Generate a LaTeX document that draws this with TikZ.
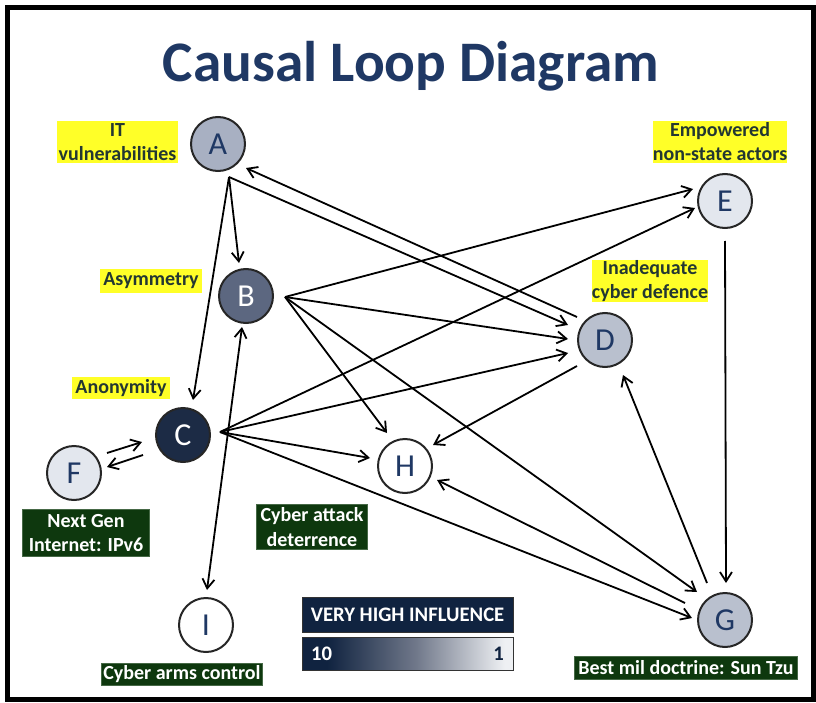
\documentclass[tikz,border=0pt]{standalone}
\usepackage{fontspec}
\setmainfont{Carlito}
\usetikzlibrary{arrows.meta,calc}
\definecolor{navy}{RGB}{31,56,100}
\definecolor{legnavy}{RGB}{16,35,64}
\definecolor{leggray}{RGB}{112,120,138}
\definecolor{legwhite}{RGB}{238,240,243}
\definecolor{yel}{RGB}{255,255,40}
\definecolor{yeltext}{RGB}{35,55,50}
\definecolor{grn}{RGB}{14,56,14}
\definecolor{grnedge}{RGB}{70,105,70}
\definecolor{fillA}{RGB}{168,176,194}
\definecolor{fillB}{RGB}{92,103,128}
\definecolor{fillC}{RGB}{28,43,69}
\definecolor{fillD}{RGB}{185,192,206}
\definecolor{fillE}{RGB}{227,231,238}
\pgfdeclarehorizontalshading{legshade}{100bp}{color(0bp)=(legnavy); color(25bp)=(legnavy); color(31bp)=(legnavy); color(52bp)=(leggray); color(73bp)=(legwhite); color(100bp)=(legwhite)}
\begin{document}
\begin{tikzpicture}[x=0.75pt,y=-0.75pt,
  cnode/.style={circle, draw=black!85, line width=1.5pt, minimum size=40.5pt, inner sep=0pt, font=\fontsize{24}{24}\selectfont, text=navy},
  tip/.style={Straight Barb[length=7pt,width=9pt]},
  conn/.style={line width=1.35pt, -{Straight Barb[length=7pt,width=9pt]}},
  hl/.style={fill=yel, text=yeltext, font=\bfseries\fontsize{15}{18}\selectfont, align=center, inner sep=0pt},
  gbox/.style={fill=grn, draw=grnedge, line width=0.6pt, text=white, font=\bfseries\fontsize{15}{18.5}\selectfont, align=center, inner sep=0pt},
]
\useasboundingbox (0,0) rectangle (816,702);
\draw[line width=3.75pt] (7.5,7.5) rectangle (813.5,699.5);

\node[font=\bfseries\fontsize{43}{50}\selectfont, text=navy, anchor=base] (title) at (411,82) {Causal Loop Diagram};

% highlighted labels
\node[hl, minimum width=90.75pt, minimum height=31.5pt] (lA) at (117.5,142) {IT\\vulnerabilities};
\node[hl, minimum width=76.5pt, minimum height=18pt] (lB) at (151,281) {Asymmetry};
\node[hl, minimum width=73.5pt, minimum height=16.5pt] (lC) at (121,388) {Anonymity};
\node[hl, minimum width=100.5pt, minimum height=31.5pt] (lE) at (720,142) {Empowered\\non-state actors};
\node[hl, minimum width=87pt, minimum height=31.5pt] (lD) at (650,281) {Inadequate\\cyber defence};

% green labels
\node[gbox, minimum width=95.25pt, minimum height=35.25pt] (lF) at (86,533) {Next Gen\\Internet: IPv6};
\node[gbox, minimum width=83.25pt, minimum height=33.75pt] (lH) at (312,527) {Cyber attack\\deterrence};
\node[gbox, minimum width=120.75pt, minimum height=16.5pt] (lI) at (182,674) {Cyber arms control};
\node[gbox, minimum width=167.25pt, minimum height=17.25pt] (lG) at (686,668) {Best mil doctrine: Sun Tzu};

% legend
\node[fill=legnavy, draw=black!80, line width=0.6pt, minimum width=158.25pt, minimum height=26.25pt, text=white, font=\bfseries\fontsize{15.5}{18}\selectfont, inner sep=0pt] (leg1) at (407.5,614.5) {VERY HIGH INFLUENCE};
\node[shading=legshade, draw=black!80, line width=0.6pt, minimum width=158.25pt, minimum height=24.75pt, inner sep=0pt] (leg2) at (407.5,653.5) {};
\node[text=white, font=\bfseries\fontsize{15.5}{18}\selectfont, anchor=west, inner sep=0pt] (ten) at ([xshift=7pt]leg2.west) {10};
\node[text=legnavy, font=\bfseries\fontsize{15.5}{18}\selectfont, anchor=east, inner sep=0pt] (one) at ([xshift=-7pt]leg2.east) {1};

% circle nodes
\node[cnode, fill=fillA] (A) at (218,144) {A};
\node[cnode, fill=fillB, text=white] (B) at (246,296) {B};
\node[cnode, fill=fillC, text=white] (C) at (183,435) {C};
\node[cnode, fill=fillD] (D) at (605,340) {D};
\node[cnode, fill=fillE] (E) at (725,201) {E};
\node[cnode, fill=fillE] (F) at (74,473) {F};
\node[cnode, fill=fillD] (G) at (725,620) {G};
\node[cnode, fill=white] (H) at (405,466) {H};
\node[cnode, fill=white] (I) at (206,625) {I};

% connector ports
\coordinate (Ao) at ($(A)+(11,33)$);
\coordinate (Bo) at ($(B)+(39,1)$);
\coordinate (Co) at ($(C)+(37,-3)$);
\coordinate (Da) at ($(D)+(-28,-23)$);
\coordinate (Dh) at ($(D)+(-28,26)$);
\coordinate (Gd) at ($(G)+(-18,-37)$);
\coordinate (Gh) at ($(G)+(-40,-17)$);
\coordinate (Eg) at ($(E)+(0,40)$);

% connectors
\draw[conn] (Ao) -- ($(B)+(-7,-33)$);
\draw[conn] (Ao) -- ($(C)+(10,-35)$);
\draw[conn] (Ao) -- ($(D)+(-37,-15)$);
\draw[conn] (Da) -- ($(A)+(28,24)$);
\draw[conn] (Bo) -- ($(E)+(-32,-12)$);
\draw[conn] (Bo) -- ($(D)+(-37,-1)$);
\draw[conn] (Bo) -- ($(H)+(-18,-33)$);
\draw[conn] (Bo) -- ($(G)+(-28,-28)$);
\draw[conn] (Co) -- ($(E)+(-30,7)$);
\draw[conn] (Co) -- ($(D)+(-37,13)$);
\draw[conn] (Co) -- ($(H)+(-35,-8)$);
\draw[conn] (Co) -- ($(G)+(-33,-2)$);
\draw[conn] (Dh) -- ($(H)+(28,-21)$);
\draw[conn] (Gh) -- ($(H)+(32,14)$);
\draw[conn] (Gd) -- ($(D)+(18,35)$);
\draw[conn] (Eg) -- ($(G)+(1,-37)$);
\draw[conn, {Straight Barb[length=7pt,width=9pt]}-{Straight Barb[length=7pt,width=9pt]}] ($(B)+(-4,31)$) -- ($(I)+(1,-35)$);
\draw[conn] ($(F)+(33,-20)$) -- ($(C)+(-41,7)$);
\draw[conn] ($(C)+(-40,20)$) -- ($(F)+(33,-6)$);
\end{tikzpicture}
\end{document}
